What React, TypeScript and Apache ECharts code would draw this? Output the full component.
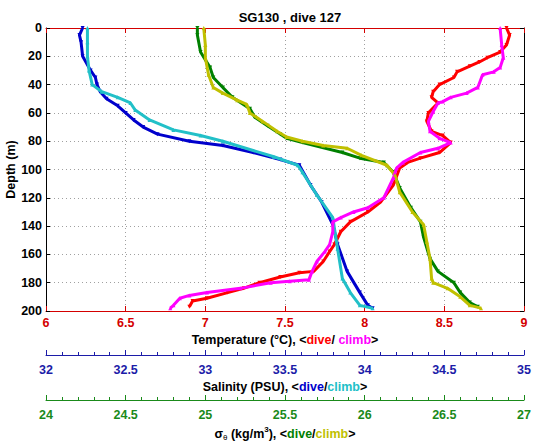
import React, { useEffect, useRef } from "react";
import * as echarts from "echarts";

// ---------- data ----------
const depthTicks = [0, 20, 40, 60, 80, 100, 120, 140, 160, 180, 200];

const tempDiveDepth = [0, 5, 12, 17, 21, 24, 27, 31, 35, 40, 45, 49, 53, 60, 66, 73, 76, 81, 88, 92, 95, 99, 111, 123, 130, 137, 144, 153, 158, 165, 172, 173, 176, 180, 184, 187, 191, 193, 197];
const tempDive = [8.89, 8.91, 8.89, 8.85, 8.77, 8.72, 8.66, 8.58, 8.56, 8.47, 8.43, 8.42, 8.46, 8.40, 8.39, 8.42, 8.49, 8.54, 8.47, 8.35, 8.27, 8.22, 8.18, 8.10, 8.02, 7.91, 7.85, 7.81, 7.78, 7.74, 7.68, 7.59, 7.47, 7.34, 7.24, 7.14, 7.01, 6.92, 6.90];

const tempClimbDepth = [0, 12, 21, 28, 31, 33, 42, 46, 49, 52, 53, 59, 66, 73, 78, 81, 85, 88, 95, 99, 106, 120, 127, 130, 134, 137, 144, 153, 158, 165, 172, 178, 179, 180, 184, 187, 189, 191, 196, 198];
const tempClimb = [8.85, 8.86, 8.87, 8.85, 8.81, 8.74, 8.71, 8.64, 8.54, 8.49, 8.46, 8.43, 8.40, 8.41, 8.47, 8.54, 8.46, 8.35, 8.24, 8.20, 8.18, 8.12, 8.02, 7.93, 7.85, 7.80, 7.80, 7.78, 7.75, 7.70, 7.67, 7.65, 7.53, 7.41, 7.22, 7.01, 6.90, 6.84, 6.80, 6.78];

const salDiveDepth = [0, 5, 10, 20, 30, 35, 40, 45, 50, 55, 60, 65, 70, 75, 80, 83, 88, 93, 97, 111, 123, 139, 153, 172, 187, 196, 198];
const salDive = [32.23, 32.21, 32.22, 32.23, 32.28, 32.31, 32.32, 32.34, 32.38, 32.45, 32.50, 32.55, 32.61, 32.70, 32.90, 33.11, 33.30, 33.47, 33.59, 33.66, 33.73, 33.80, 33.83, 33.89, 33.97, 34.02, 34.05];

const salClimbDepth = [0, 10, 20, 30, 40, 45, 49, 53, 58, 65, 72, 76, 80, 91, 97, 102, 118, 134, 156, 177, 187, 196, 198];
const salClimb = [32.26, 32.26, 32.26, 32.27, 32.29, 32.35, 32.45, 32.53, 32.56, 32.65, 32.80, 32.97, 33.11, 33.43, 33.58, 33.61, 33.70, 33.80, 33.83, 33.86, 33.91, 33.97, 34.05];

const sigDiveDepth = [0, 5, 17, 28, 35, 42, 49, 57, 63, 69, 75, 78, 81, 88, 92, 95, 102, 113, 127, 137, 148, 163, 172, 180, 187, 194, 197];
const sigDive = [24.95, 24.95, 24.97, 25.03, 25.05, 25.11, 25.17, 25.28, 25.31, 25.39, 25.47, 25.51, 25.61, 25.86, 25.97, 26.12, 26.18, 26.22, 26.29, 26.35, 26.37, 26.41, 26.46, 26.56, 26.60, 26.66, 26.71];

const sigClimbDepth = [0, 12, 21, 33, 42, 46, 51, 54, 60, 66, 73, 77, 80, 83, 85, 90, 97, 104, 116, 130, 139, 151, 163, 177, 180, 184, 190, 196, 198];
const sigClimb = [24.99, 25.00, 25.00, 25.02, 25.05, 25.11, 25.20, 25.26, 25.28, 25.36, 25.45, 25.51, 25.61, 25.74, 25.89, 25.98, 26.14, 26.19, 26.22, 26.30, 26.37, 26.39, 26.41, 26.42, 26.43, 26.52, 26.60, 26.66, 26.73];

const tempRange = [6, 9];
const salRange = [32, 35];
const sigRange = [24, 27];

// ---------- styling ----------
const FONT = "'Liberation Sans', Arial, Helvetica, sans-serif";
const C = {
  tAxis: "#d40000",
  tDive: "#ff0000",
  tClimb: "#ff00ff",
  sAxis: "#1c1ca8",
  sDive: "#0000cc",
  sClimb: "#22c0c8",
  gAxis: "#1a8a1a",
  gDive: "#008000",
  gClimb: "#c0c000",
};

const FS = 12.5;
const baseText = { fontFamily: FONT, fontWeight: "bold" as const, fontSize: FS, color: "#000" };

function mkSeries(name: string, xs: number[], ds: number[], xi: number, color: string, dive: boolean) {
  return {
    type: "line",
    name,
    xAxisIndex: xi,
    yAxisIndex: 0,
    data: ds.map((d, i) => [xs[i], d]),
    symbol: "triangle",
    symbolSize: 4,
    symbolRotate: dive ? 180 : 0,
    showSymbol: true,
    itemStyle: { color },
    lineStyle: { color, width: 3 },
    z: dive ? 2 : 3,
  };
}

export default function App() {
  const ref = useRef<HTMLDivElement>(null);
  useEffect(() => {
    if (!ref.current) return;
    const chart = echarts.init(ref.current, undefined, { renderer: "svg" });
    const dotted = { show: true, lineStyle: { color: "#a0a0a0", type: [1, 3] as any, width: 1 } };
    const subAxis = (min: number, max: number, offset: number, axisColor: string, name: string, rich: any) => ({
      type: "value",
      position: "bottom",
      offset,
      min,
      max,
      interval: 0.5,
      axisLine: { show: true, onZero: false, lineStyle: { color: axisColor, width: 1 } },
      axisTick: { show: true, inside: true, length: 5, lineStyle: { color: axisColor } },
      minorTick: { show: true, splitNumber: 5, length: 3, lineStyle: { color: axisColor } },
      axisLabel: { ...baseText, color: axisColor, margin: 8 },
      splitLine: { show: false },
      name,
      nameLocation: "middle",
      nameGap: 23,
      nameTextStyle: { ...baseText, rich },
    });
    chart.setOption({
      animation: false,
      backgroundColor: "#fff",
      title: {
        text: "SG130 , dive 127",
        left: 285,
        top: 6,
        textAlign: "center",
        textStyle: { ...baseText, fontSize: 13 },
      },
      grid: { left: 46, right: 11, top: 28, bottom: 131, containLabel: false, outerBoundsMode: "none" },
      xAxis: [
        {
          type: "value",
          position: "bottom",
          min: tempRange[0],
          max: tempRange[1],
          interval: 0.5,
          axisLine: { show: true, onZero: false, lineStyle: { color: C.tAxis } },
          axisTick: { show: true, inside: true, length: 5, lineStyle: { color: C.tAxis } },
          axisLabel: { ...baseText, color: C.tAxis, margin: 5 },
          splitLine: dotted,
          name: "{b|Temperature (°C), <}{r|dive}{b|/ }{m|climb}{b|>}",
          nameLocation: "middle",
          nameGap: 20,
          nameTextStyle: {
            ...baseText,
            rich: {
              b: { ...baseText },
              r: { ...baseText, color: C.tDive },
              m: { ...baseText, color: C.tClimb },
            },
          },
        },
        {
          type: "value",
          position: "top",
          min: tempRange[0],
          max: tempRange[1],
          interval: 0.5,
          axisLine: { show: true, onZero: false, lineStyle: { color: C.tAxis } },
          axisTick: { show: true, inside: true, length: 5, lineStyle: { color: C.tAxis } },
          axisLabel: { show: false },
          splitLine: { show: false },
        },
        subAxis(salRange[0], salRange[1], 44, C.sAxis, "{b|Salinity (PSU), <}{d|dive}{b|/}{c|climb}{b|>}", {
          b: { ...baseText },
          d: { ...baseText, color: C.sDive },
          c: { ...baseText, color: C.sClimb },
        }),
        subAxis(sigRange[0], sigRange[1], 89, C.gAxis, "{b|σ}{sub|θ}{b| (kg/m}{sup|3}{b|), <}{d|dive}{b|/}{c|climb}{b|>}", {
          b: { ...baseText, lineHeight: 16 },
          sub: { ...baseText, fontSize: 8, fontWeight: "normal", verticalAlign: "bottom", lineHeight: 16 },
          sup: { ...baseText, fontSize: 8, verticalAlign: "top", lineHeight: 16 },
          d: { ...baseText, color: C.gDive, lineHeight: 16 },
          c: { ...baseText, color: C.gClimb, lineHeight: 16 },
        }),
      ],
      yAxis: [
        {
          type: "value",
          inverse: true,
          position: "left",
          min: depthTicks[0],
          max: depthTicks[depthTicks.length - 1],
          interval: 20,
          axisLine: { show: true, onZero: false, lineStyle: { color: "#000" } },
          axisTick: { show: true, inside: true, length: 4, lineStyle: { color: "#000" } },
          axisLabel: { ...baseText, margin: 4 },
          splitLine: dotted,
          name: "Depth (m)",
          nameLocation: "middle",
          nameGap: 29,
          nameMoveOverlap: false,
          nameTextStyle: { ...baseText },
        },
        {
          type: "value",
          inverse: true,
          position: "right",
          min: depthTicks[0],
          max: depthTicks[depthTicks.length - 1],
          interval: 20,
          axisLine: { show: true, onZero: false, lineStyle: { color: "#000" } },
          axisTick: { show: true, inside: true, length: 4, lineStyle: { color: "#000" } },
          axisLabel: { show: false },
          splitLine: { show: false },
        },
      ],
      series: [
        mkSeries("Salinity dive", salDive, salDiveDepth, 2, C.sDive, true),
        mkSeries("Sigma dive", sigDive, sigDiveDepth, 3, C.gDive, true),
        mkSeries("Temperature dive", tempDive, tempDiveDepth, 0, C.tDive, true),
        mkSeries("Salinity climb", salClimb, salClimbDepth, 2, C.sClimb, false),
        mkSeries("Sigma climb", sigClimb, sigClimbDepth, 3, C.gClimb, false),
        mkSeries("Temperature climb", tempClimb, tempClimbDepth, 0, C.tClimb, false),
      ],
    });
    return () => chart.dispose();
  }, []);
  return (
    <div
      ref={ref}
      style={{ position: "fixed", left: 0, top: 0, width: 535, height: 442, background: "#fff" }}
    />
  );
}
